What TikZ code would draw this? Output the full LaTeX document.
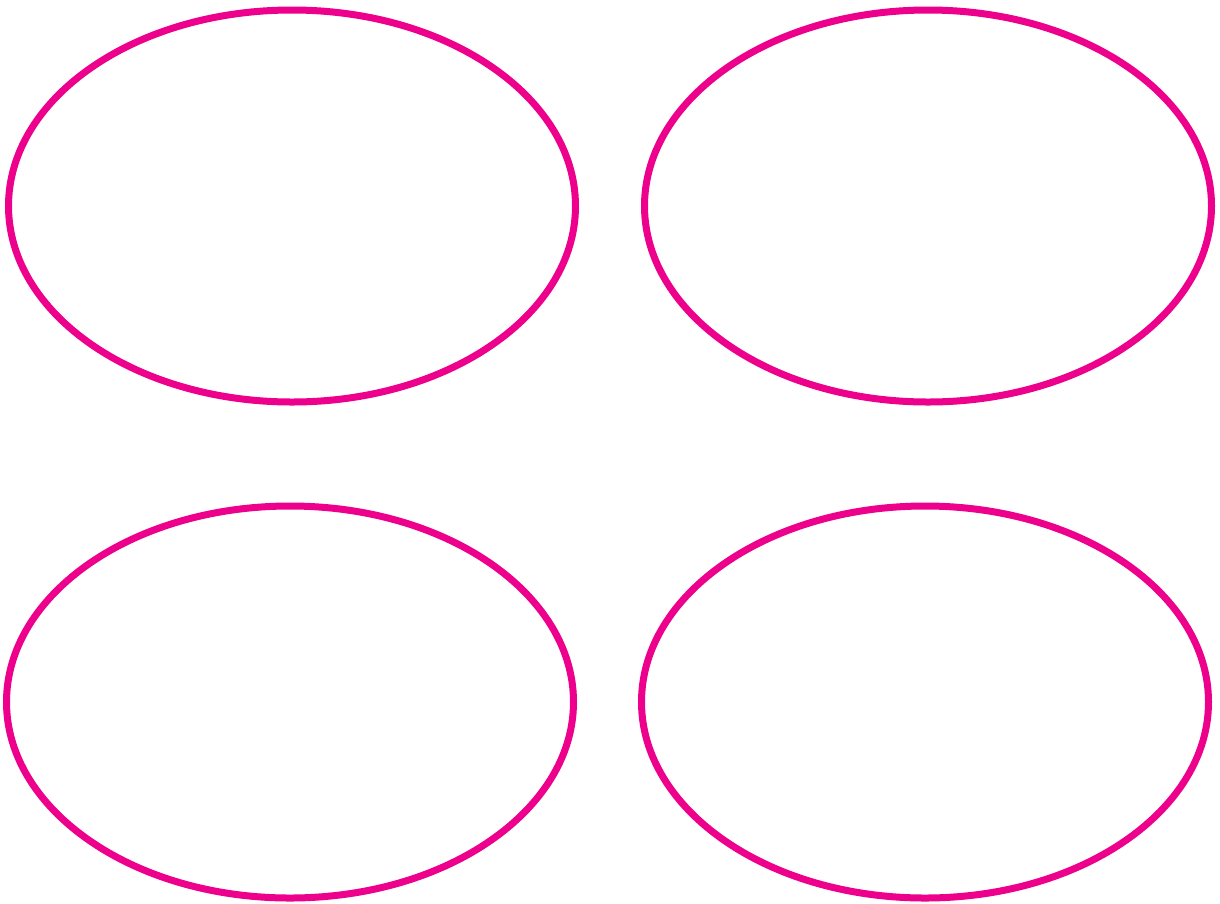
\documentclass[tikz,border=0pt]{standalone}
\usetikzlibrary{shapes.geometric}
\definecolor{mag}{HTML}{EC008C}
\begin{document}
\begin{tikzpicture}[x=1pt,y=-1pt,
  oval/.style={draw=mag,line width=7pt,ellipse,inner sep=0pt,minimum width=567pt,minimum height=392pt}]
\useasboundingbox (0,0) rectangle (1220,903);
\node[oval] (e1) at (292,206) {};
\node[oval] (e2) at (928,206) {};
\node[oval] (e3) at (290,702) {};
\node[oval] (e4) at (925,702) {};
\end{tikzpicture}
\end{document}
